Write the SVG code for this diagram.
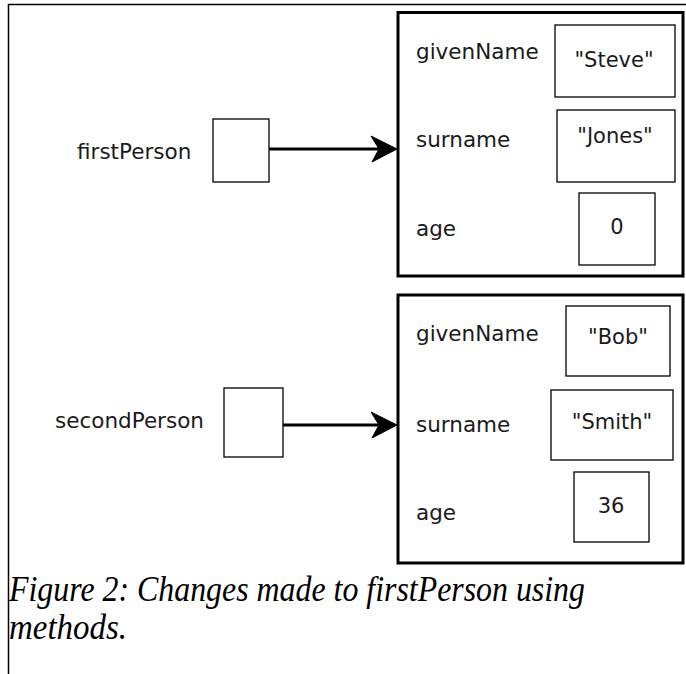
<svg xmlns="http://www.w3.org/2000/svg" width="686" height="674" viewBox="0 0 686 674">
  <defs>
    <style>
      .frame { fill: none; stroke: #000; stroke-width: 1.5; }
      .obj { fill: #fff; stroke: #000; stroke-width: 3; }
      .cell { fill: #fff; stroke: #000; stroke-width: 1.3; }
      .ref { fill: #fff; stroke: #000; stroke-width: 1.3; }
      .lbl { font-family: "DejaVu Sans", Verdana, sans-serif; font-size: 21.5px; fill: #1a1a1a; }
      .val { font-family: "DejaVu Sans", Verdana, sans-serif; font-size: 21px; fill: #1a1a1a; text-anchor: middle; }
      .link { fill: none; stroke: #000; stroke-width: 3; }
      .head { fill: #000; stroke: #000; stroke-width: 1; stroke-linejoin: miter; }
      .caption { font-family: "Liberation Serif", "Times New Roman", serif; font-style: italic; font-size: 35px; fill: #000; }
    </style>
  </defs>

  <rect width="686" height="674" fill="#fff"/>
  <!-- page frame: top rule and left rule -->
  <path class="frame" d="M8.5,674 V4.5 H686"/>

  <!-- reference variables -->
  <g id="firstPerson">
    <text class="lbl" x="77" y="159">firstPerson</text>
    <rect class="ref" x="213" y="119" width="56" height="63"/>
  </g>
  <g id="secondPerson">
    <text class="lbl" x="55" y="428">secondPerson</text>
    <rect class="ref" x="224" y="388" width="59" height="69"/>
  </g>

  <!-- first object -->
  <g id="person1">
    <rect class="obj" x="398" y="12.5" width="285" height="263.5"/>
    <text class="lbl" x="416" y="59">givenName</text>
    <rect class="cell" x="555" y="25" width="120" height="72"/>
    <text class="val" x="614" y="67">"Steve"</text>
    <text class="lbl" x="416" y="147">surname</text>
    <rect class="cell" x="557" y="110" width="118" height="72"/>
    <text class="val" x="615" y="143">"Jones"</text>
    <text class="lbl" x="416" y="236">age</text>
    <rect class="cell" x="579" y="193" width="76" height="72"/>
    <text class="val" x="617" y="234">0</text>
  </g>

  <!-- second object -->
  <g id="person2">
    <rect class="obj" x="398" y="295" width="285" height="268"/>
    <text class="lbl" x="416" y="341">givenName</text>
    <rect class="cell" x="566" y="306" width="104" height="70"/>
    <text class="val" x="618" y="344">"Bob"</text>
    <text class="lbl" x="416" y="432">surname</text>
    <rect class="cell" x="551" y="390" width="122" height="70"/>
    <text class="val" x="612" y="429">"Smith"</text>
    <text class="lbl" x="416" y="520">age</text>
    <rect class="cell" x="574" y="472" width="75" height="70"/>
    <text class="val" x="611" y="513">36</text>
  </g>

  <!-- references: shaft plus barbed head -->
  <g id="connectors">
    <path class="link" d="M269,149 H385"/>
    <polygon class="head" points="397,149 371,136 379,149 372,162"/>
    <path class="link" d="M283,425 H385"/>
    <polygon class="head" points="397,425 371,412 379,425 372,438"/>
  </g>

  <!-- caption -->
  <g id="caption">
    <text class="caption" x="9" y="601" textLength="576" lengthAdjust="spacingAndGlyphs">Figure 2: Changes made to firstPerson using</text>
    <text class="caption" x="9" y="639" textLength="118" lengthAdjust="spacingAndGlyphs">methods.</text>
  </g>
</svg>
